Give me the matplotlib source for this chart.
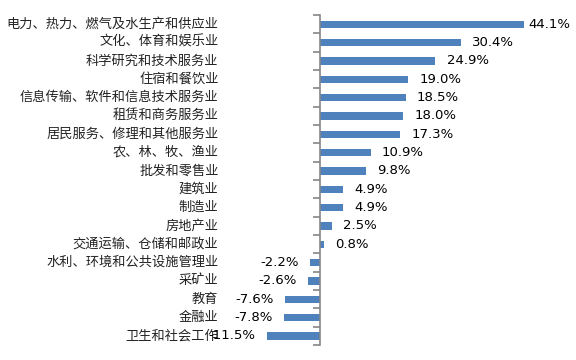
import numpy as np
import matplotlib.pyplot as plt
from matplotlib import transforms

plt.rcParams['font.family'] = ['Noto Sans CJK SC', 'DejaVu Sans']

# industries, top to bottom, and growth (%)
categories = ['电力、热力、燃气及水生产和供应业', '文化、体育和娱乐业', '科学研究和技术服务业',
              '住宿和餐饮业', '信息传输、软件和信息技术服务业', '租赁和商务服务业',
              '居民服务、修理和其他服务业', '农、林、牧、渔业', '批发和零售业', '建筑业',
              '制造业', '房地产业', '交通运输、仓储和邮政业', '水利、环境和公共设施管理业',
              '采矿业', '教育', '金融业', '卫生和社会工作']
values = [44.1, 30.4, 24.9, 19.0, 18.5, 18.0, 17.3, 10.9, 9.8, 4.9,
          4.9, 2.5, 0.8, -2.2, -2.6, -7.6, -7.8, -11.5]

bar_color = '#4F81BD'
axis_color = '#868686'

fig = plt.figure(figsize=(5.76, 3.6), dpi=100)
ax = fig.add_axes([222 / 576, 15 / 360, 344 / 576, 330 / 360])

n = len(categories)
y = np.arange(n)
ax.barh(y, values, height=0.4, color=bar_color)
ax.set_ylim(n - 0.5, -0.5)
ax.set_xlim(-21.2, 53.1)

for s in ['top', 'right', 'bottom']:
    ax.spines[s].set_visible(False)
ax.spines['left'].set_position(('data', 0))
ax.spines['left'].set_color(axis_color)
ax.spines['left'].set_linewidth(1.2)
ax.set_xticks([])
ax.set_yticks(np.arange(n + 1) - 0.5)
ax.set_yticklabels([])
ax.tick_params(axis='y', length=5, width=1.2, color=axis_color, direction='out')

# category labels sit at the left edge of the plot area
trans = transforms.blended_transform_factory(ax.transAxes, ax.transData)
for yi, name in zip(y, categories):
    ax.text(-0.01, yi, name, transform=trans, ha='right', va='center',
            fontsize=9.5, color='#222222')

# value labels
for yi, v in zip(y, values):
    if v >= 0:
        off = 3 if v == max(values) else 8
        ax.annotate(f'{v:.1f}%', (v, yi), xytext=(off, 0), textcoords='offset points',
                    ha='left', va='center', fontsize=9.5, family='DejaVu Sans')
    else:
        ax.annotate(f'{v:.1f}%', (v, yi), xytext=(-8, 0), textcoords='offset points',
                    ha='right', va='center', fontsize=9.5, family='DejaVu Sans')

fig.savefig('out.png', dpi=100)
